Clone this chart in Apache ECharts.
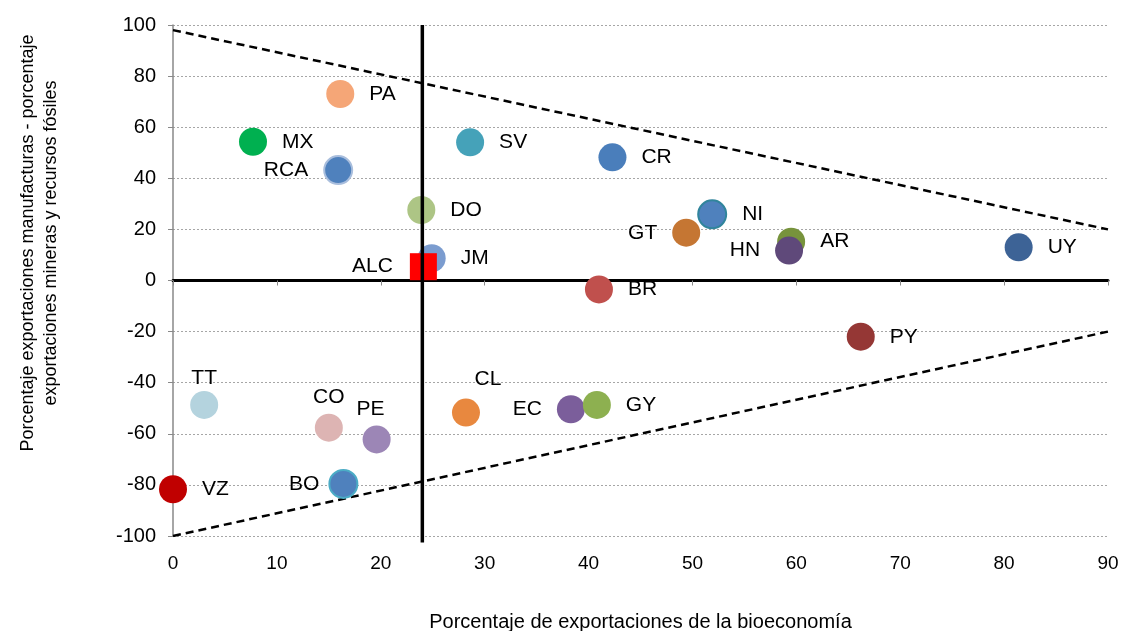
<!DOCTYPE html>
<html>
<head>
<meta charset="utf-8">
<script src="https://cdn.jsdelivr.net/npm/echarts@6/dist/echarts.min.js"></script>
<style>
    html, body { margin: 0; padding: 0; background: #fff; }
    #main { width: 1124px; height: 631px; }
</style>
</head>
<body>
<div id="main"></div>
<script>
    // country codes, drawing order matters where circles overlap
    var countries = ['PA', 'MX', 'RCA', 'SV', 'DO', 'JM', 'CR', 'NI', 'GT', 'AR', 'HN', 'UY', 'BR', 'PY', 'EC', 'GY', 'CL', 'TT', 'CO', 'PE', 'BO', 'VZ'];
    // porcentaje de exportaciones de la bioeconomía
    var bioShare = [16.1, 7.7, 15.9, 28.6, 23.9, 24.9, 42.3, 51.9, 49.4, 59.5, 59.3, 81.4, 41.0, 66.2, 38.3, 40.8, 28.2, 3.0, 15.0, 19.6, 16.4, 0];
    // manufacturas - mineras y recursos fósiles
    var manufMinusMin = [73, 54.3, 43.2, 54.1, 27.6, 8.7, 48.2, 25.9, 18.7, 15.2, 11.7, 13, -3.5, -22, -50.4, -48.7, -51.7, -48.7, -57.6, -62.2, -79.6, -81.7];
    var pointColors = ['#F5A677', '#00B050', '#4F81BD', '#45A2B9', '#ADC585', '#7B9CCF', '#4A7EBB', '#4F81BD', '#C57633', '#77933C', '#5F497A', '#3D6396', '#C0504D', '#953735', '#7B5E9B', '#8DB050', '#E8883F', '#B4D3DE', '#DDB4B3', '#9C86B6', '#4F81BD', '#C00000'];

    var alcName = 'ALC';
    var alcPoint = [24.1, 5.4];

    var upperBound = [[0, 98], [90, 20]];
    var lowerBound = [[0, -100], [90, -20]];
    var alcBioLine = [[24, 100], [24, -102.5]];

    var xMin = 0, xMax = 90, xStep = 10;
    var yMin = -100, yMax = 100, yStep = 20;

    var xTitle = 'Porcentaje de exportaciones de la bioeconomía';
    var yTitle = ['Porcentaje exportaciones manufacturas - porcentaje', 'exportaciones mineras y recursos fósiles'];

    var FONT = '"Liberation Sans", Arial, sans-serif';

    // where each label sits relative to its circle
    var labelSide = {
        RCA: 'left', GT: 'left', HN: 'left', EC: 'left', BO: 'left',
        TT: 'top', CO: 'top', PE: 'top', CL: 'top'
    };
    var labelTweak = {
        TT: {distance: 2},
        CO: {distance: 6},
        PE: {distance: 6, offset: [-6, 0]},
        CL: {distance: 9, offset: [22, 0]},
        BO: {distance: 9}
    };
    var borders = {
        RCA: '#A9BEDD',
        NI: '#31859C',
        BO: '#4BACC6'
    };

    var points = countries.map(function (c, i) {
        var t = labelTweak[c] || {};
        var item = {
            name: c,
            value: [bioShare[i], manufMinusMin[i]],
            itemStyle: {color: pointColors[i], opacity: 1},
            label: {
                position: labelSide[c] || 'right',
                distance: t.distance != null ? t.distance : 15,
                offset: t.offset || [0, 0]
            }
        };
        if (borders[c]) {
            item.itemStyle.borderColor = borders[c];
            item.itemStyle.borderWidth = 2;
        }
        return item;
    });

    var chart = echarts.init(document.getElementById('main'));
    chart.setOption({
        animation: false,
        grid: {left: 173, right: 16, top: 25, bottom: 95, outerBoundsMode: 'none', containLabel: false},
        graphic: [{
            type: 'text',
            x: 40,
            y: 243,
            rotation: Math.PI / 2,
            style: {
                text: yTitle.join('\n'),
                font: '18px ' + FONT,
                fill: '#000',
                textAlign: 'center',
                textVerticalAlign: 'middle',
                lineHeight: 23
            }
        }],
        xAxis: [{
            type: 'value',
            min: xMin, max: xMax, interval: xStep,
            position: 'bottom',
            axisLine: {show: false, onZero: false},
            axisTick: {show: false},
            splitLine: {show: false},
            axisLabel: {color: '#000', fontSize: 19, margin: 18, fontFamily: FONT},
            name: xTitle,
            nameLocation: 'middle',
            nameGap: 76,
            nameTextStyle: {color: '#000', fontSize: 20, fontFamily: FONT}
        }, {
            type: 'value',
            min: xMin, max: xMax, interval: xStep,
            position: 'bottom',
            axisLine: {show: true, onZero: true, lineStyle: {color: '#000', width: 3}},
            axisTick: {show: true, length: 5, lineStyle: {color: '#898989', width: 1}},
            axisLabel: {show: false},
            splitLine: {show: false}
        }],
        yAxis: {
            type: 'value',
            min: yMin, max: yMax, interval: yStep,
            axisLine: {show: true, onZero: false, lineStyle: {color: '#898989', width: 1.5}},
            axisTick: {show: true, length: 5, lineStyle: {color: '#898989'}},
            axisLabel: {color: '#000', fontSize: 20, margin: 17, fontFamily: FONT},
            splitLine: {show: true, lineStyle: {color: '#A6A6A6', width: 1, type: [2, 2]}}
        },
        series: [
            {
                type: 'line',
                data: upperBound,
                symbol: 'none',
                silent: true,
                z: 3,
                lineStyle: {color: '#000', width: 2.5, type: [8, 5]}
            },
            {
                type: 'line',
                data: lowerBound,
                symbol: 'none',
                silent: true,
                z: 3,
                lineStyle: {color: '#000', width: 2.5, type: [8, 5]}
            },
            {
                type: 'scatter',
                symbol: 'circle',
                symbolSize: 28,
                z: 4,
                data: points,
                label: {
                    show: true,
                    formatter: '{b}',
                    color: '#000',
                    fontSize: 21,
                    fontFamily: FONT
                },
                emphasis: {disabled: true}
            },
            {
                type: 'scatter',
                symbol: 'rect',
                symbolSize: 27,
                z: 5,
                data: [{name: alcName, value: alcPoint}],
                itemStyle: {color: '#FF0000', opacity: 1},
                label: {
                    show: true,
                    position: 'left',
                    distance: 17,
                    formatter: '{b}',
                    color: '#000',
                    fontSize: 21,
                    fontFamily: FONT
                },
                emphasis: {disabled: true}
            },
            {
                type: 'line',
                data: alcBioLine,
                symbol: 'none',
                silent: true,
                clip: false,
                z: 6,
                lineStyle: {color: '#000', width: 3.5}
            }
        ]
    });
</script>
</body>
</html>
